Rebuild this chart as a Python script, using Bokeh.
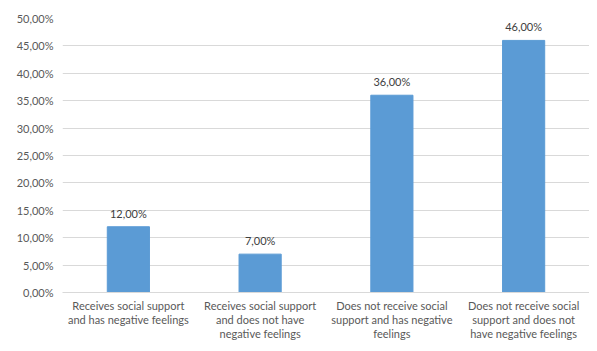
from bokeh.plotting import figure
from bokeh.models import ColumnDataSource, FixedTicker, FactorRange, Range1d
from bokeh.embed import file_html
from bokeh.resources import INLINE
from bokeh.core.properties import value

categories = [
    "Receives social support\nand has negative feelings",
    "Receives social support\nand does not have\nnegative feelings",
    "Does not receive social\nsupport and has negative\nfeelings",
    "Does not receive social\nsupport and does not\nhave negative feelings",
]
values = [12.0, 7.0, 36.0, 46.0]
labels = ["12,00%", "7,00%", "36,00%", "46,00%"]
yticks = [0, 5, 10, 15, 20, 25, 30, 35, 40, 45, 50]
ytick_labels = ["0,00%", "5,00%", "10,00%", "15,00%", "20,00%", "25,00%",
                "30,00%", "35,00%", "40,00%", "45,00%", "50,00%"]

src = ColumnDataSource(dict(x=categories, top=values, label=labels))

p = figure(width=589, height=343, output_backend="svg", toolbar_location=None,
           x_range=FactorRange(factors=categories, range_padding=0),
           y_range=Range1d(0, 50),
           min_border_left=62, min_border_right=0, min_border_top=18, min_border_bottom=45)
p.outline_line_color = None
p.background_fill_color = "white"
p.border_fill_color = "white"

p.vbar(x="x", top="top", width=0.32, source=src, fill_color="#5B9BD5", line_color="#5B9BD5")
p.text(x="x", y="top", text="label", source=src, text_align="center", text_baseline="bottom",
       y_offset=-7, text_font=value("Lato"), text_font_size="11px", text_color="#404040")

p.yaxis.ticker = FixedTicker(ticks=yticks)
p.yaxis.major_label_overrides = {t: l for t, l in zip(yticks, ytick_labels)}
p.yaxis.axis_line_color = None
p.yaxis.major_tick_line_color = None
p.yaxis.minor_tick_line_color = None
p.yaxis.major_tick_out = 0
p.yaxis.major_tick_in = 0
p.yaxis.major_label_text_font = "Lato"
p.yaxis.major_label_text_font_size = "11px"
p.yaxis.major_label_text_color = "#595959"
p.yaxis.major_label_standoff = 9

p.xaxis.axis_line_color = "#d9d9d9"
p.xaxis.major_tick_line_color = None
p.xaxis.minor_tick_line_color = None
p.xaxis.major_tick_out = 0
p.xaxis.major_tick_in = 0
p.xaxis.major_label_text_font = "Lato"
p.xaxis.major_label_text_font_size = "11px"
p.xaxis.major_label_text_line_height = 1.1
p.xaxis.major_label_text_color = "#595959"
p.xaxis.major_label_standoff = 6

p.xgrid.grid_line_color = None
p.ygrid.grid_line_color = "#d9d9d9"
p.ygrid.grid_line_width = 1

open("out.html", "w").write(file_html(p, INLINE))
